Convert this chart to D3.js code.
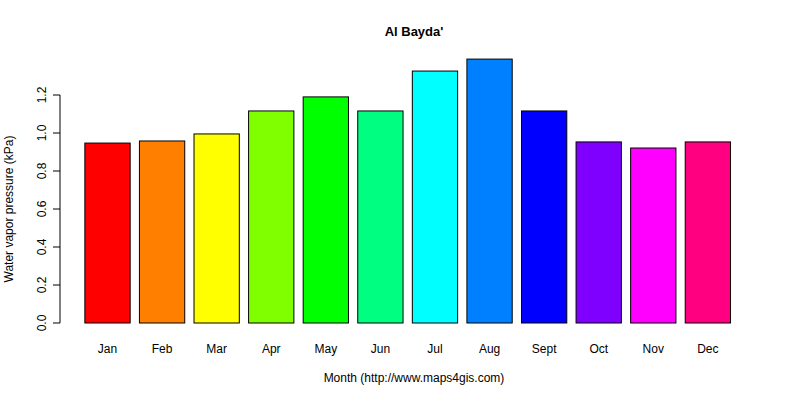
<!DOCTYPE html>
<html>
<head>
<meta charset="UTF-8">
<script src="https://d3js.org/d3.v7.min.js"></script>
<style>
  body { margin: 0; background: #fff; }
  text { font-family: "Liberation Sans", Arial, sans-serif; }
</style>
</head>
<body>
<svg id="chart" width="800" height="400"></svg>
<script>
const months = ["Jan","Feb","Mar","Apr","May","Jun","Jul","Aug","Sept","Oct","Nov","Dec"];
const values = [0.947, 0.958, 0.995, 1.116, 1.19, 1.116, 1.326, 1.389, 1.116, 0.953, 0.921, 0.953];
const colors = ["#FF0000","#FF8000","#FFFF00","#80FF00","#00FF00","#00FF80","#00FFFF","#0080FF","#0000FF","#8000FF","#FF00FF","#FF0080"];
const yTicks = [0, 0.2, 0.4, 0.6, 0.8, 1.0, 1.2];

const svg = d3.select("#chart");

const x = d3.scaleBand().domain(months)
    .range([79.4, 79.4 + 55.64 * 12 - 11.1])
    .paddingInner(0.17).paddingOuter(0.1);
const y = d3.scaleLinear().domain([0, 1.2]).range([323, 95]);

svg.selectAll("rect.bar")
  .data(values)
  .enter().append("rect")
  .attr("class", "bar")
  .attr("x", (d, i) => x(months[i]))
  .attr("width", x.bandwidth())
  .attr("y", d => y(d))
  .attr("height", d => y(0) - y(d))
  .attr("fill", (d, i) => colors[i])
  .attr("stroke", "#000")
  .attr("stroke-width", 1);

// month labels
svg.selectAll("text.month")
  .data(months)
  .enter().append("text")
  .attr("x", d => x(d) + x.bandwidth() / 2)
  .attr("y", 353)
  .attr("text-anchor", "middle")
  .attr("font-size", 12)
  .text(d => d);

// y axis
const yAxis = svg.append("g").attr("transform", "translate(60,0)");
yAxis.append("line").attr("x1", 0).attr("x2", 0)
  .attr("y1", y(0)).attr("y2", y(1.2)).attr("stroke", "#000");
yTicks.forEach(t => {
  yAxis.append("line").attr("x1", -7).attr("x2", 0)
    .attr("y1", y(t)).attr("y2", y(t)).attr("stroke", "#000");
  yAxis.append("text")
    .attr("transform", `translate(-14,${y(t)}) rotate(-90)`)
    .attr("text-anchor", "middle")
    .attr("font-size", 12)
    .text(t.toFixed(1));
});

svg.append("text").attr("x", 414).attr("y", 36)
  .attr("text-anchor", "middle").attr("font-size", 13).attr("font-weight", "bold")
  .text("Al Bayda'");
svg.append("text").attr("x", 414).attr("y", 382)
  .attr("text-anchor", "middle").attr("font-size", 12)
  .text("Month (http://www.maps4gis.com)");
svg.append("text")
  .attr("transform", "translate(13,209) rotate(-90)")
  .attr("text-anchor", "middle").attr("font-size", 12)
  .text("Water vapor pressure (kPa)");
</script>
</body>
</html>
